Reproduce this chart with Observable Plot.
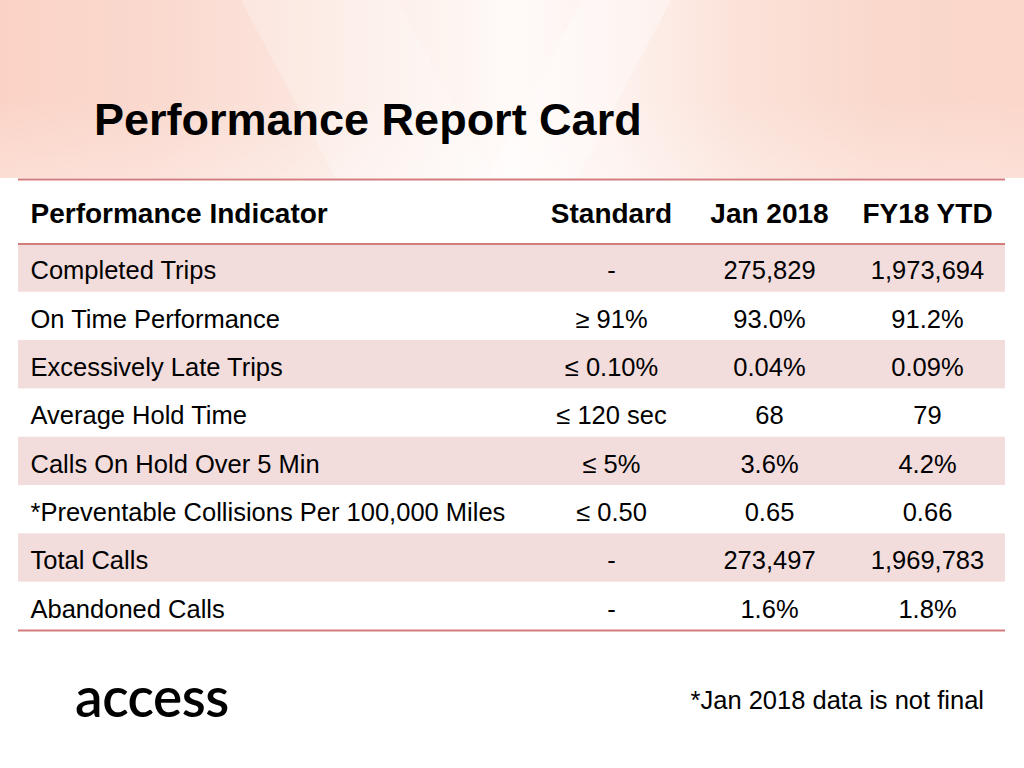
<!DOCTYPE html>
<html>
<head>
<meta charset="utf-8">
<script src="https://cdn.jsdelivr.net/npm/d3@7"></script>
<script src="https://cdn.jsdelivr.net/npm/@observablehq/plot@0.6"></script>
<style>
html, body { margin: 0; padding: 0; background: #fff; }
#slide { position: relative; width: 1024px; height: 768px; overflow: hidden; background: #fff;
  font-family: "Liberation Sans", Arial, sans-serif; color: #000; }
#band { position: absolute; left: 0; top: 0; width: 1024px; height: 178px;
  background:
    linear-gradient(118deg, rgba(255,255,255,0) 0%, rgba(255,255,255,0) 52%, rgba(255,255,255,0.3) 52%, rgba(255,255,255,0.3) 60%, rgba(255,255,255,0) 60%),
    linear-gradient(62deg, rgba(255,255,255,0) 0%, rgba(255,255,255,0) 30%, rgba(255,255,255,0.22) 30%, rgba(255,255,255,0.22) 44%, rgba(255,255,255,0) 44%),
    linear-gradient(to bottom, rgba(255,255,255,0) 0%, rgba(255,255,255,0) 55%, rgba(255,255,255,0.25) 100%),
    linear-gradient(90deg, #fbd3c6 0%, #fad8cd 14%, #fbe3db 28%, #fdf1ec 40%, #fffaf8 50%, #fef2ee 60%, #fbe2d9 72%, #fad8cc 86%, #fbd6ca 100%);
}
#chart { position: absolute; left: 0; top: 0; }
#title { position: absolute; left: 94px; top: 97px; font-size: 45px; font-weight: bold; line-height: 1; white-space: nowrap; }
#note { position: absolute; right: 40px; top: 688px; font-size: 25.5px; line-height: 1; white-space: nowrap; }
#logo { position: absolute; left: 75px; top: 669px; font-family: Lato, "Open Sans", sans-serif; font-size: 55px; font-weight: 600; line-height: 1; letter-spacing: -0.5px; }
</style>
</head>
<body>
<div id="slide">
  <div id="band"></div>
  <div id="chart"></div>
  <div id="title">Performance Report Card</div>
  <div id="logo">access</div>
  <div id="note">*Jan 2018 data is not final</div>
</div>
<script>
const columns = ["Performance Indicator", "Standard", "Jan 2018", "FY18 YTD"];
const indicators = [
  "Completed Trips",
  "On Time Performance",
  "Excessively Late Trips",
  "Average Hold Time",
  "Calls On Hold Over 5 Min",
  "*Preventable Collisions Per 100,000 Miles",
  "Total Calls",
  "Abandoned Calls"
];
const standards = ["-", "\u2265 91%", "\u2264 0.10%", "\u2264 120 sec", "\u2264 5%", "\u2264 0.50", "-", "-"];
const jan2018 = ["275,829", "93.0%", "0.04%", "68", "3.6%", "0.65", "273,497", "1.6%"];
const fy18ytd = ["1,973,694", "91.2%", "0.09%", "79", "4.2%", "0.66", "1,969,783", "1.8%"];

const rows = indicators.map((name, i) => ({i, name}));
const valueColumns = columns.slice(1);
const series = [standards, jan2018, fy18ytd];
const cells = rows.flatMap(r => valueColumns.map((col, k) => ({i: r.i, col, value: series[k][r.i]})));
const HEADER = -4 / 3;
const n = indicators.length;

const plot = Plot.plot({
  width: 1024,
  height: 768,
  marginTop: 179,
  marginBottom: 138,
  marginLeft: 18,
  marginRight: 19,
  style: {background: "transparent", fontFamily: "'Liberation Sans', Arial, sans-serif", color: "#000"},
  x: {type: "band", domain: valueColumns, range: [532, 1006], padding: 0, axis: null},
  y: {type: "linear", domain: [HEADER, n], reverse: true, axis: null},
  marks: [
    Plot.rect(rows.filter(r => r.i % 2 === 0), {y1: "i", y2: d => d.i + 1, fill: "#f3dcdc"}),
    Plot.ruleY([HEADER, 0, n], {stroke: "#d47c7c", strokeWidth: 2}),
    Plot.text([columns[0]], {y: () => HEADER / 2, text: d => d, frameAnchor: "left", dx: 12, dy: 2, textAnchor: "start", fontSize: 28, fontWeight: "bold", fill: "#000"}),
    Plot.text(valueColumns, {x: d => d, y: () => HEADER / 2, text: d => d, dy: 2, fontSize: 28, fontWeight: "bold", fill: "#000"}),
    Plot.text(rows, {y: d => d.i + 0.5, text: "name", frameAnchor: "left", dx: 12, dy: 3, textAnchor: "start", fontSize: 25.5, fill: "#000"}),
    Plot.text(cells, {x: "col", y: d => d.i + 0.5, text: "value", dy: 3, fontSize: 25.5, fill: "#000"})
  ]
});
document.getElementById("chart").appendChild(plot);
</script>
</body>
</html>
